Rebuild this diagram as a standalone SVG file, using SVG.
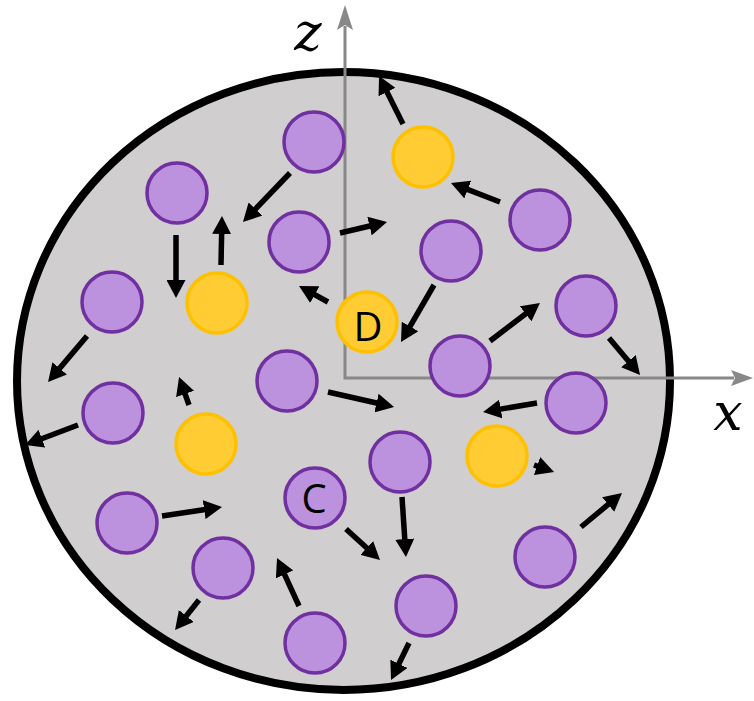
<svg xmlns="http://www.w3.org/2000/svg" width="754" height="701" viewBox="0 0 754 701">
<style>
.p{fill:#BC91DE;stroke:#7030A0;stroke-width:3.5}
.y{fill:#FFCD33;stroke:#FFC000;stroke-width:3.5}
.ar line{stroke:#000;stroke-width:5.5;marker-end:url(#ah)}
.lbl{font-family:"Open Sans","Noto Sans",sans-serif;font-size:40px;fill:#000;text-anchor:middle}
.ax{font-family:"DejaVu Serif",serif;font-style:italic;font-size:52px;fill:#000;text-anchor:middle}
</style>
<defs>
<marker id="ah" markerUnits="userSpaceOnUse" viewBox="0 0 18 19" markerWidth="18" markerHeight="19" refX="8" refY="9.5" orient="auto">
<path d="M0,0 L18,9.5 L0,19 z" fill="#000"/>
</marker>
</defs>
<rect width="754" height="701" fill="#fff"/>
<g id="sphere">
<ellipse cx="343.5" cy="381" rx="326.5" ry="309" fill="#D0CECE" stroke="#000" stroke-width="8"/>
</g>
<g id="axes">
<polyline points="345,26 345,378 734,378" fill="none" stroke="#888" stroke-width="3"/>
<polygon points="345,5 353,30 345,25 337,30" fill="#888"/>
<polygon points="753,378 731,370 735,378 731,386" fill="#888"/>
<text class="ax" x="308" y="50">z</text>
<text class="ax" x="728" y="430">x</text>
</g>
<g id="nodes">
<g id="p1"><circle class="p" cx="314" cy="142" r="30"/></g>
<g id="p2"><circle class="p" cx="177" cy="193" r="30"/></g>
<g id="p3"><circle class="p" cx="299" cy="242" r="30"/></g>
<g id="p4"><circle class="p" cx="112" cy="302" r="30"/></g>
<g id="p5"><circle class="p" cx="540" cy="220" r="30"/></g>
<g id="p6"><circle class="p" cx="451" cy="251" r="30"/></g>
<g id="p7"><circle class="p" cx="586" cy="306" r="30"/></g>
<g id="p8"><circle class="p" cx="460" cy="366" r="30"/></g>
<g id="p9"><circle class="p" cx="113" cy="413" r="30"/></g>
<g id="p10"><circle class="p" cx="287" cy="381" r="30"/></g>
<g id="nodeC"><circle class="p" cx="315" cy="498" r="30"/><text class="lbl" x="314" y="513">C</text></g>
<g id="p12"><circle class="p" cx="127" cy="523" r="30"/></g>
<g id="p13"><circle class="p" cx="223" cy="568" r="30"/></g>
<g id="p14"><circle class="p" cx="315" cy="643" r="30"/></g>
<g id="p16"><circle class="p" cx="576" cy="403" r="30"/></g>
<g id="p17"><circle class="p" cx="400" cy="462" r="30"/></g>
<g id="p18"><circle class="p" cx="545" cy="557" r="30"/></g>
<g id="p19"><circle class="p" cx="426" cy="606" r="30"/></g>
<g id="y1"><circle class="y" cx="423" cy="157" r="30"/></g>
<g id="y2"><circle class="y" cx="217" cy="303" r="30"/></g>
<g id="nodeD"><circle class="y" cx="367" cy="322" r="30"/><text class="lbl" x="368" y="341">D</text></g>
<g id="y4"><circle class="y" cx="206" cy="444" r="30"/></g>
<g id="y5"><circle class="y" cx="497" cy="456" r="30"/></g>
</g>
<g id="connectors" class="ar">
<line x1="290" y1="173" x2="249.9" y2="214.8"/>
<line x1="176" y1="235" x2="176" y2="288"/>
<line x1="221" y1="265" x2="221.8" y2="226"/>
<line x1="340" y1="233" x2="377.3" y2="224.3"/>
<line x1="328" y1="302" x2="307.8" y2="290.8"/>
<line x1="87" y1="336" x2="54.5" y2="374.4"/>
<line x1="403" y1="124" x2="383.5" y2="84.9"/>
<line x1="500" y1="202" x2="460.3" y2="186.6"/>
<line x1="434" y1="285" x2="406" y2="333.4"/>
<line x1="490" y1="341" x2="532" y2="309"/>
<line x1="609" y1="338" x2="633.6" y2="367.3"/>
<line x1="78" y1="425" x2="34.4" y2="441.5"/>
<line x1="189" y1="405" x2="182.4" y2="386.4"/>
<line x1="328" y1="392" x2="384.3" y2="404.8"/>
<line x1="162" y1="516" x2="212.1" y2="508.5"/>
<line x1="346" y1="529" x2="372.6" y2="553.3"/>
<line x1="199" y1="600" x2="181.3" y2="622.2"/>
<line x1="299" y1="606" x2="281.2" y2="567.1"/>
<line x1="537" y1="403" x2="492.9" y2="410.4"/>
<line x1="534" y1="465" x2="544.6" y2="468.7"/>
<line x1="402" y1="497" x2="405.3" y2="547"/>
<line x1="581" y1="527" x2="614.3" y2="499.4"/>
<line x1="409" y1="643" x2="395.4" y2="671"/>
</g>
</svg>
